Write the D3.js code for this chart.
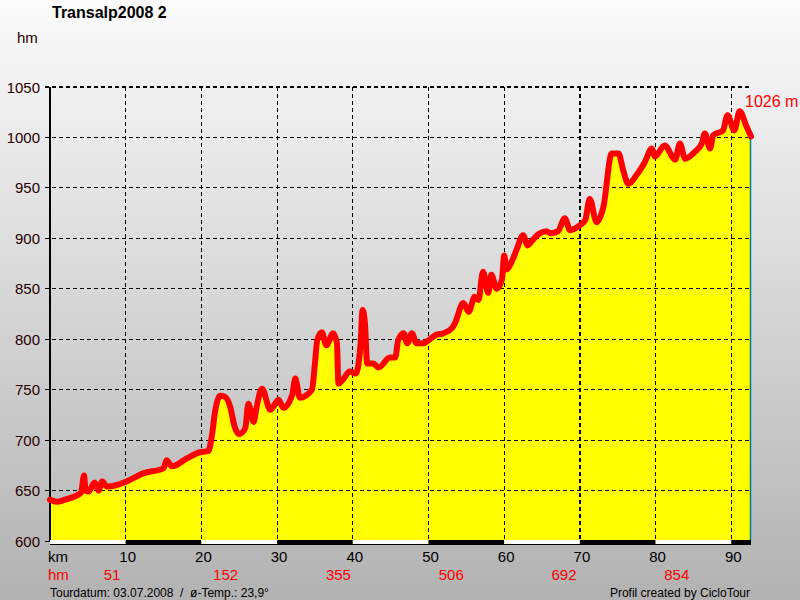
<!DOCTYPE html>
<html><head><meta charset="utf-8">
<script src="https://cdn.jsdelivr.net/npm/d3@7"></script>
<style>html,body{margin:0;padding:0;}svg{display:block;font-family:"Liberation Sans",Arial,sans-serif;}</style>
</head><body>
<script>
const title = "Transalp2008 2";
const kmValues = [0,0.9,2.0,3.5,4.1,4.5,4.7,5.1,5.9,6.4,6.9,7.5,8.6,10.1,12.3,15.0,15.4,16.1,18.1,19.8,20.9,21.4,21.8,22.5,23.1,23.8,24.4,25.0,25.8,26.2,26.9,27.3,28.0,29.1,30.2,30.8,32.0,32.4,33.0,34.6,35.0,35.3,35.9,36.5,37.4,37.9,38.1,38.7,39.6,40.4,41.0,41.3,41.6,41.9,42.7,43.4,44.9,45.6,46.0,46.7,47.2,47.8,48.4,49.3,50.0,50.9,52.0,53.1,53.5,54.6,55.3,56.1,56.6,57.2,57.9,58.3,59.0,59.7,60.0,60.3,61.0,61.6,62.5,63.1,63.6,64.5,65.6,66.1,67.1,68.0,68.7,70.0,70.7,71.3,72.2,73.1,74.2,75.1,75.7,76.4,77.5,78.6,79.5,79.9,81.2,82.6,83.2,83.9,85.2,86.1,86.5,87.2,87.6,88.9,89.5,90.4,91.1,92.0,92.6];
const elevValues = [641,639,641,645,648,665,650,649,658,650,659,654,655,659,667,672,680,674,682,688,689,705,728,744,743,733,713,706,712,736,718,733,751,730,740,732,745,761,742,750,776,799,807,794,806,796,756,760,768,766,793,829,816,776,776,772,782,782,799,806,796,806,796,796,799,804,806,811,816,836,827,842,839,867,846,864,850,859,883,869,877,888,903,893,897,904,907,905,907,920,908,913,918,939,916,931,984,984,968,954,963,976,989,981,992,978,994,979,986,994,1004,989,1002,1007,1022,1007,1026,1011,1001];
const kmTicks = [10,20,30,40,50,60,70,80,90];
const hmTicks = [600,650,700,750,800,850,900,950,1000,1050];
const climbLabels = ["51","152","355","506","692","854"];
const climbKm = [8.2,23.2,38.1,53.0,67.9,82.8];
const maxLabel = "1026 m";
const footerLeft = "Tourdatum: 03.07.2008  /  ø-Temp.: 23,9°";
const footerRight = "Profil created by CicloTour";

const W = 800, H = 600;
const x = d3.scaleLinear().domain([0, 92.6]).range([50, 751]);
const y = d3.scaleLinear().domain([600, 1050]).range([541, 87]);
const data = kmValues.map((k, i) => ({k, e: elevValues[i]}));

const svg = d3.select("body").append("svg").attr("width", W).attr("height", H);
const defs = svg.append("defs");
const g = defs.append("linearGradient").attr("id", "bg").attr("x1", 0).attr("y1", 0).attr("x2", 0).attr("y2", 1);
g.append("stop").attr("offset", "0%").attr("stop-color", "#fbfbfb");
g.append("stop").attr("offset", "100%").attr("stop-color", "#b2b2b2");
svg.append("rect").attr("width", W).attr("height", H).attr("fill", "url(#bg)");

// area fill
const area = d3.area().x(d => x(d.k)).y0(y(600)).y1(d => y(d.e));
svg.append("path").datum(data).attr("d", area).attr("fill", "#ffff00");

// grid
const grid = svg.append("g").attr("stroke", "#000").attr("stroke-width", 1.2).attr("stroke-dasharray", "4,3").attr("shape-rendering", "crispEdges");
grid.selectAll("line.h").data(hmTicks.filter(v => v > 600)).join("line")
  .attr("x1", 45).attr("x2", 751).attr("y1", d => y(d)).attr("y2", d => y(d));
grid.selectAll("line.v").data(kmTicks).join("line")
  .attr("x1", d => x(d)).attr("x2", d => x(d)).attr("y1", y(1050)).attr("y2", y(600));

// y axis line and ticks
svg.append("line").attr("x1", 50).attr("x2", 50).attr("y1", y(1050)).attr("y2", y(600)).attr("stroke", "#000").attr("stroke-width", 1.2).attr("shape-rendering", "crispEdges");
svg.selectAll("line.tk").data(hmTicks).join("line").attr("class", "tk")
  .attr("x1", 45).attr("x2", 50).attr("y1", d => y(d)).attr("y2", d => y(d)).attr("stroke", "#000").attr("shape-rendering", "crispEdges");
svg.selectAll("text.yl").data(hmTicks).join("text").attr("class", "yl")
  .attr("x", 40).attr("y", d => y(d) + 5.5).attr("text-anchor", "end")
  .attr("font-size", 15).attr("fill", "#2a0000").text(d => d);

// right teal edge
const last = data[data.length - 1];
svg.append("line").attr("x1", x(last.k) - 0.5).attr("x2", x(last.k) - 0.5).attr("y1", y(last.e)).attr("y2", y(600))
  .attr("stroke", "#008080").attr("stroke-width", 1.5);

// profile line
const line = d3.line().x(d => x(d.k)).y(d => y(d.e)).curve(d3.curveMonotoneX);
svg.append("path").datum(data).attr("d", line).attr("fill", "none").attr("stroke", "#ff0000")
  .attr("stroke-width", 6).attr("stroke-linejoin", "round").attr("stroke-linecap", "round");

// bottom km strip
const segs = d3.range(0, 10).map(i => ({a: i * 10, b: Math.min((i + 1) * 10, 92.6), black: i % 2 === 1}));
svg.selectAll("rect.seg").data(segs).join("rect").attr("class", "seg")
  .attr("x", d => x(d.a)).attr("width", d => x(d.b) - x(d.a)).attr("y", 540).attr("height", 5)
  .attr("fill", d => d.black ? "#000" : "#fff");
svg.append("line").attr("x1", 50).attr("x2", 751).attr("y1", 544.5).attr("y2", 544.5).attr("stroke", "#000");

// km labels
svg.append("text").attr("x", 48).attr("y", 562).attr("font-size", 15).attr("fill", "#000").text("km");
svg.selectAll("text.xl").data(kmTicks).join("text").attr("class", "xl")
  .attr("x", d => x(d) + 2).attr("y", 562).attr("text-anchor", "middle").attr("font-size", 15).attr("fill", "#000").text(d => d);
svg.append("text").attr("x", 48).attr("y", 580).attr("font-size", 15).attr("fill", "#ff0000").text("hm");
svg.selectAll("text.cl").data(climbLabels).join("text").attr("class", "cl")
  .attr("x", (d, i) => x(climbKm[i])).attr("y", 580).attr("text-anchor", "middle").attr("font-size", 15).attr("fill", "#ff0000").text(d => d);

// titles
svg.append("text").attr("x", 52).attr("y", 18).attr("font-size", 16).attr("font-weight", "bold").attr("fill", "#000").text(title);
svg.append("text").attr("x", 17).attr("y", 43).attr("font-size", 15).attr("fill", "#200000").text("hm");
svg.append("text").attr("x", 745).attr("y", 107).attr("font-size", 16).attr("fill", "#ff0000").text(maxLabel);
svg.append("text").attr("x", 50).attr("y", 597).attr("font-size", 12).attr("fill", "#000").attr("xml:space", "preserve").style("white-space", "pre").text(footerLeft);
svg.append("text").attr("x", 750).attr("y", 597).attr("font-size", 12).attr("text-anchor", "end").attr("fill", "#000").text(footerRight);
</script>
</body></html>
